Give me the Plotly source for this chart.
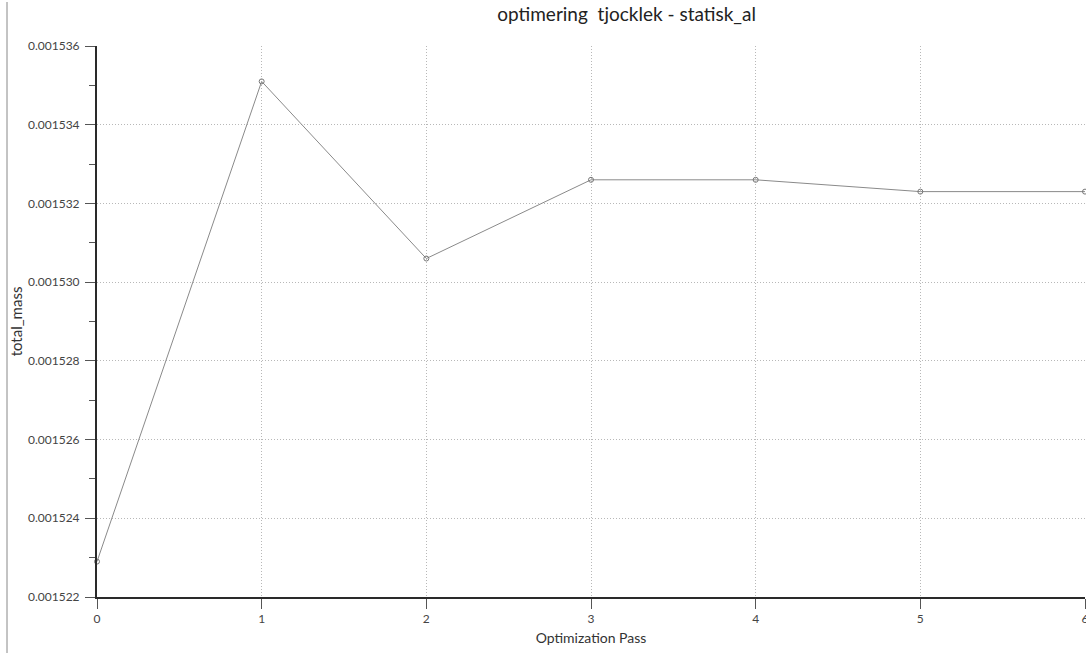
import plotly.graph_objects as go

# Optimization history for total_mass
passes = [0, 1, 2, 3, 4, 5, 6]
total_mass = [0.0015229, 0.0015351, 0.0015306, 0.0015326, 0.0015326, 0.0015323, 0.0015323]

y_ticks = [0.001522, 0.001524, 0.001526, 0.001528, 0.001530, 0.001532, 0.001534, 0.001536]
y_tick_text = ["0.001522", "0.001524", "0.001526", "0.001528", "0.001530", "0.001532", "0.001534", "0.001536"]
x_ticks = [0, 1, 2, 3, 4, 5, 6]

FONT = "Lato, 'Open Sans', sans-serif"

fig = go.Figure()
fig.add_trace(go.Scatter(
    x=passes, y=total_mass, mode="lines+markers",
    line=dict(color="#8a8a8a", width=1),
    marker=dict(symbol="circle-open", size=5, color="#777777", line=dict(width=1)),
    cliponaxis=False, showlegend=False,
))

W, H = 1086, 653
L, R, T, B = 97, 1, 46, 56

fig.update_layout(
    width=W, height=H,
    margin=dict(l=L, r=R, t=T, b=B, autoexpand=False),
    paper_bgcolor="white", plot_bgcolor="white",
    font=dict(family=FONT, color="#333333", size=12),
    title=dict(text="optimering  tjocklek - statisk_al", x=0.577, xanchor="center",
               y=1 - 14 / H, yanchor="middle",
               font=dict(family=FONT, size=19, color="#222222")),
    xaxis=dict(
        range=[0, 6], tickvals=x_ticks, ticktext=[str(v) for v in x_ticks],
        showline=True, linecolor="#2a2a2a", linewidth=2,
        ticks="outside", ticklen=10, tickcolor="#555555", tickwidth=1,
        showgrid=True, gridcolor="#b8b8b8", griddash="1px,2px", gridwidth=1,
        zeroline=False, automargin=False, ticklabeloverflow="allow",
        title=dict(text="Optimization Pass", font=dict(family=FONT, size=14, color="#333333"), standoff=8),
        tickfont=dict(size=12, color="#444444"),
    ),
    yaxis=dict(
        range=[0.001522, 0.001536], tickvals=y_ticks, ticktext=y_tick_text,
        showline=True, linecolor="#2a2a2a", linewidth=2,
        ticks="outside", ticklen=10, tickcolor="#555555", tickwidth=1,
        minor=dict(dtick=0.000001, ticks="outside", ticklen=6, tickcolor="#555555", showgrid=False),
        showgrid=True, gridcolor="#b8b8b8", griddash="1px,2px", gridwidth=1,
        zeroline=False, automargin=False, ticklabelstandoff=3,
        title=dict(text="total_mass", font=dict(family=FONT, size=15, color="#333333"), standoff=2),
        tickfont=dict(size=12, color="#444444"),
    ),
)

# Left panel border
fig.add_shape(type="line", xref="paper", yref="paper",
              x0=(7 - L) / (W - L - R), x1=(7 - L) / (W - L - R),
              y0=(B - H) / (H - T - B), y1=(H - 2 - B) / (H - T - B),
              line=dict(color="#888888", width=1))

fig.write_html("out.html")
